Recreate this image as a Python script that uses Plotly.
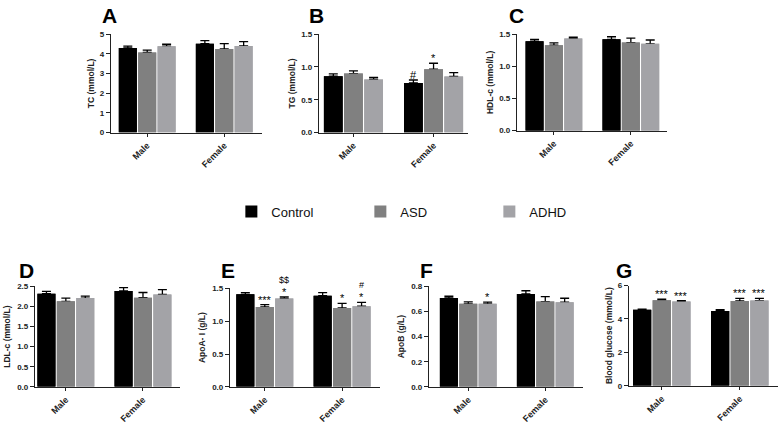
import plotly.graph_objects as go

groups = ["Male", "Female"]
series = ["Control", "ASD", "ADHD"]

# Panel A: TC (mmol/L)
tc_control = [4.30, 4.52]; tc_control_err = [0.09, 0.15]
tc_asd = [4.07, 4.25]; tc_asd_err = [0.12, 0.27]
tc_adhd = [4.39, 4.40]; tc_adhd_err = [0.10, 0.22]
# Panel B: TG (mmol/L)
tg_control = [0.86, 0.757]; tg_control_err = [0.035, 0.045]
tg_asd = [0.90, 0.967]; tg_asd_err = [0.04, 0.09]
tg_adhd = [0.81, 0.855]; tg_adhd_err = [0.03, 0.06]
# Panel C: HDL-c (mmol/L)
hdl_control = [1.39, 1.42]; hdl_control_err = [0.03, 0.04]
hdl_asd = [1.33, 1.37]; hdl_asd_err = [0.035, 0.07]
hdl_adhd = [1.435, 1.35]; hdl_adhd_err = [0.02, 0.06]
# Panel D: LDL-c (mmol/L)
ldl_control = [2.32, 2.39]; ldl_control_err = [0.06, 0.08]
ldl_asd = [2.13, 2.22]; ldl_asd_err = [0.08, 0.13]
ldl_adhd = [2.21, 2.30]; ldl_adhd_err = [0.05, 0.12]
# Panel E: ApoA-I (g/L)
apoa_control = [1.41, 1.39]; apoa_control_err = [0.025, 0.045]
apoa_asd = [1.218, 1.203]; apoa_asd_err = [0.035, 0.07]
apoa_adhd = [1.347, 1.228]; apoa_adhd_err = [0.025, 0.06]
# Panel F: ApoB (g/L)
apob_control = [0.709, 0.74]; apob_control_err = [0.013, 0.026]
apob_asd = [0.662, 0.68]; apob_asd_err = [0.016, 0.039]
apob_adhd = [0.662, 0.675]; apob_adhd_err = [0.013, 0.031]
# Panel G: Blood glucose (mmol/L)
glu_control = [4.55, 4.47]; glu_control_err = [0.04, 0.08]
glu_asd = [5.12, 5.08]; glu_asd_err = [0.06, 0.15]
glu_adhd = [5.04, 5.10]; glu_adhd_err = [0.06, 0.13]

# significance marks: (panel letter, group index, series index, [texts bottom->top])
marks = [
    ("B", 1, 0, ["#"]),
    ("B", 1, 1, ["*"]),
    ("E", 0, 1, ["***"]),
    ("E", 0, 2, ["*", "&#36;&#36;"]),
    ("E", 1, 1, ["*"]),
    ("E", 1, 2, ["*", "#"]),
    ("F", 0, 2, ["*"]),
    ("G", 0, 1, ["***"]),
    ("G", 0, 2, ["***"]),
    ("G", 1, 1, ["***"]),
    ("G", 1, 2, ["***"]),
]

W, H = 779, 424
colors = ["#000000", "#808080", "#a3a3a7"]
FONT = "Liberation Sans, Arial, sans-serif"

# letter, y title, y range, dtick, format, values, errors,
# x domain px, y domain px, x range, title standoff, letter (right x, center y)
panels = [
    ("A", "TC (mmol/L)", [0, 5], 1, "d",
     [tc_control, tc_asd, tc_adhd], [tc_control_err, tc_asd_err, tc_adhd_err],
     (111, 262), (31, 132), (-0.47, 1.49), 3, (119, 12)),
    ("B", "TG (mmol/L)", [0, 1.5], 0.5, ".1f",
     [tg_control, tg_asd, tg_adhd], [tg_control_err, tg_asd_err, tg_adhd_err],
     (319, 468), (31, 132), (-0.43, 1.43), 4, (326, 12)),
    ("C", "HDL-c (mmol/L)", [0, 1.5], 0.5, ".1f",
     [hdl_control, hdl_asd, hdl_adhd], [hdl_control_err, hdl_asd_err, hdl_adhd_err],
     (517, 667), (31, 130), (-0.48, 1.47), 4, (526, 12)),
    ("D", "LDL-c (mmol/L)", [0, 2.5], 0.5, ".1f",
     [ldl_control, ldl_asd, ldl_adhd], [ldl_control_err, ldl_asd_err, ldl_adhd_err],
     (35, 180), (290, 393), (-0.40, 1.48), 5, (36, 274)),
    ("E", "ApoA- I (g/L)", [0, 1.5], 0.5, ".1f",
     [apoa_control, apoa_asd, apoa_adhd], [apoa_control_err, apoa_asd_err, apoa_adhd_err],
     (230, 380), (292, 393), (-0.45, 1.49), 5, (237, 274)),
    ("F", "ApoB (g/L)", [0, 0.8], 0.2, ".1f",
     [apob_control, apob_asd, apob_adhd], [apob_control_err, apob_asd_err, apob_adhd_err],
     (429, 583), (290, 393), (-0.51, 1.49), 5, (435, 274)),
    ("G", "Blood glucose (mmol/L)", [0, 6], 2, "d",
     [glu_control, glu_asd, glu_adhd], [glu_control_err, glu_asd_err, glu_adhd_err],
     (629, 778), (289, 392), (-0.42, 1.49), 3, (634, 274)),
]

BARGAP = 0.245
slot = (1 - BARGAP) / 3

fig = go.Figure()
layout = dict(
    width=W, height=H, margin=dict(l=0, r=0, t=0, b=0),
    paper_bgcolor="white", plot_bgcolor="white",
    barmode="group", bargap=BARGAP, bargroupgap=0.07,
    font=dict(family=FONT, color="#111"),
    showlegend=True,
    legend=dict(orientation="h", x=0.297, y=1 - 213 / H, xanchor="left", yanchor="middle",
                font=dict(size=13, family=FONT, color="#111"),
                entrywidth=84, itemwidth=30, bgcolor="rgba(0,0,0,0)"),
)
annotations = []
xs = list(range(len(groups)))

for pi, (letter, ytitle, yr, dt, fmt, vals, errs, xd, yd, xr, stand, lpos) in enumerate(panels):
    n = "" if pi == 0 else str(pi + 1)
    xa, ya = "x" + n, "y" + n
    # bars with upward error bars
    for si in range(3):
        fig.add_trace(go.Bar(
            x=xs, y=vals[si], xaxis=xa, yaxis=ya, name=series[si],
            offsetgroup=str(si), legendgroup=series[si], showlegend=(pi == 0),
            marker=dict(color=colors[si], line=dict(width=0)),
            error_y=dict(type="data", symmetric=False, array=errs[si],
                         arrayminus=[0] * len(groups), width=4.5, thickness=1.3,
                         color="#000"),
        ))
    # overlay bars (hide lower caps)
    for si in range(3):
        fig.add_trace(go.Bar(
            x=xs, y=vals[si], xaxis=xa, yaxis=ya, name=series[si],
            offsetgroup=str(si), legendgroup=series[si], showlegend=False,
            marker=dict(color=colors[si], line=dict(width=0)), hoverinfo="skip",
        ))
    layout["xaxis" + n] = dict(
        domain=[xd[0] / W, xd[1] / W], anchor=ya, range=list(xr),
        tickmode="array", tickvals=xs, ticktext=groups, tickangle=-45,
        ticks="outside", ticklen=3, tickwidth=1.2, tickcolor="#222",
        showline=True, linecolor="#222", linewidth=1.3, showgrid=False, zeroline=False,
        tickfont=dict(size=9, family=FONT, weight="bold", color="#222"),
        fixedrange=True,
    )
    layout["yaxis" + n] = dict(
        domain=[1 - yd[1] / H, 1 - yd[0] / H], anchor=xa, range=yr, dtick=dt, tick0=0,
        tickformat=fmt, ticks="outside", ticklen=4, tickwidth=1.2, tickcolor="#222",
        showline=True, linecolor="#222", linewidth=1.3, showgrid=False, zeroline=False,
        tickfont=dict(size=8, family=FONT, weight="bold", color="#222"),
        title=dict(text=ytitle, font=dict(size=8.5, family=FONT, weight="bold", color="#222"),
                   standoff=stand),
        fixedrange=True,
    )
    # panel letter
    annotations.append(dict(
        text=letter, xref="paper", yref="paper",
        x=lpos[0] / W, y=1 - lpos[1] / H, xanchor="right", yanchor="middle",
        showarrow=False, font=dict(size=21, family=FONT, weight="bold", color="#000"),
    ))
    # significance marks
    for (pl, gi, si, texts) in marks:
        if pl != letter:
            continue
        top = vals[si][gi] + errs[si][gi]
        for li, t in enumerate(texts):
            annotations.append(dict(
                text=t, xref=xa, yref=ya, x=gi + (si - 1) * slot, y=top,
                xanchor="center", yanchor="bottom", yshift=-3 + 13 * li,
                showarrow=False,
                font=dict(size=11 if li == 0 else 9, family=FONT, color="#000000"),
            ))

layout["annotations"] = annotations
fig.update_layout(**layout)
fig.write_html("out.html")
